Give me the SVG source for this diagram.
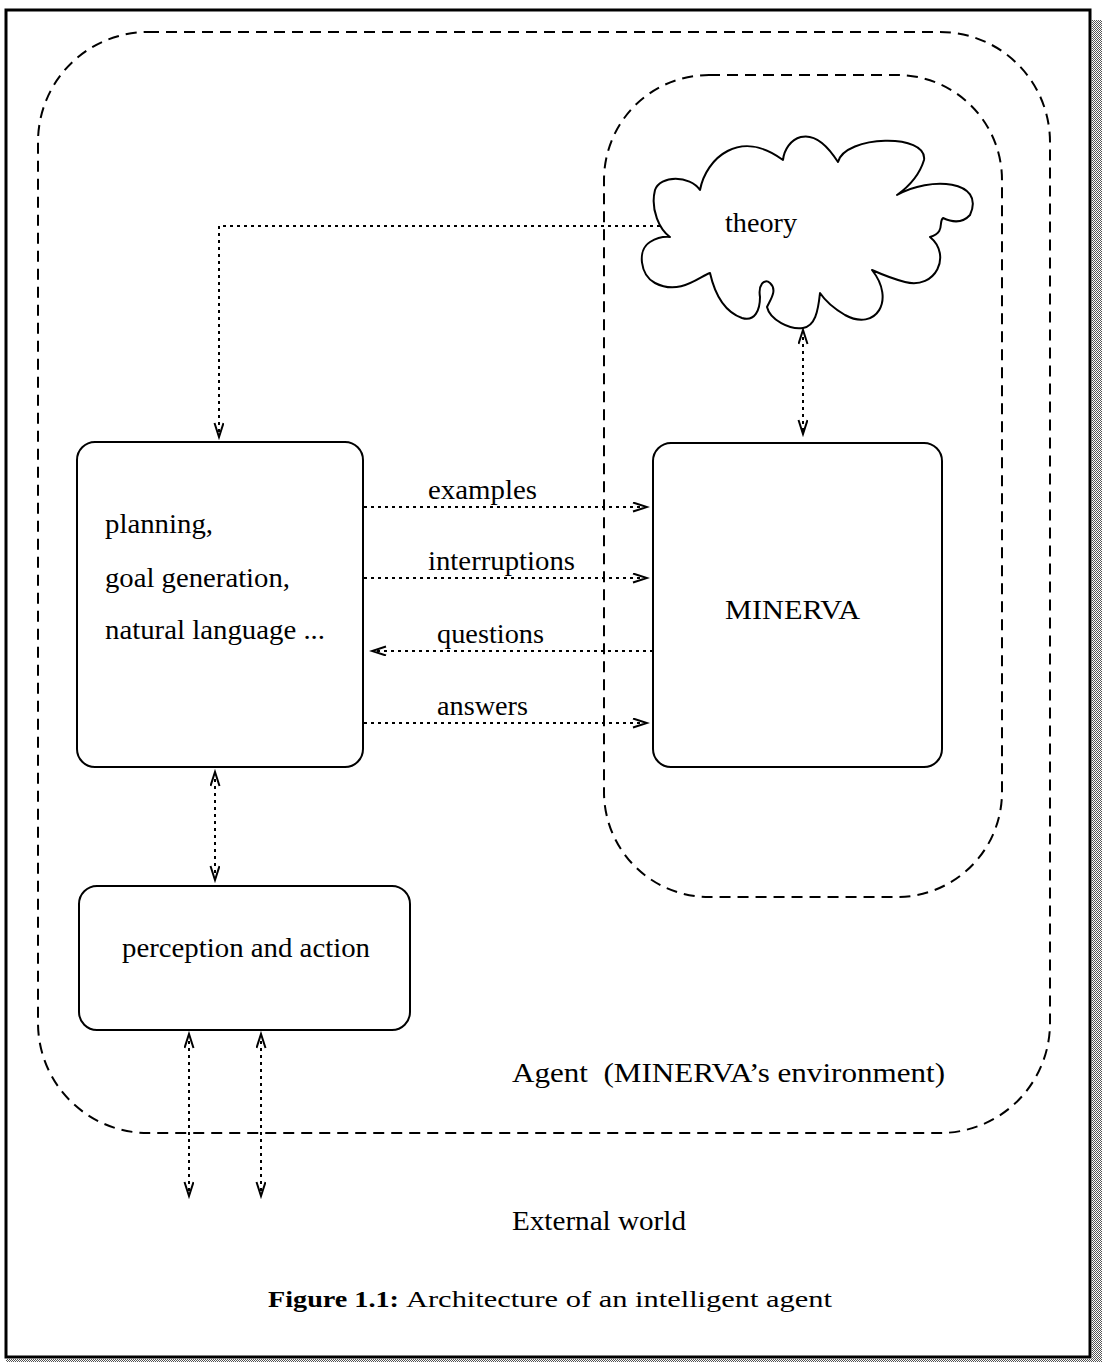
<svg xmlns="http://www.w3.org/2000/svg" width="1112" height="1362" viewBox="0 0 1112 1362">
  <defs>
    <style>
      .frame { fill: none; stroke: #000; stroke-width: 3; }
      .region { fill: none; stroke: #000; stroke-width: 2; stroke-dasharray: 11 7; }
      .box { fill: none; stroke: #000; stroke-width: 2; }
      .cloud { fill: none; stroke: #000; stroke-width: 2; stroke-linejoin: round; }
      .link { fill: none; stroke: #000; stroke-width: 2; stroke-dasharray: 3 4; }
      .lbl { font-family: "Liberation Serif", "Times New Roman", serif; font-size: 28px; fill: #000; }
      .cap { font-family: "Liberation Serif", "Times New Roman", serif; font-size: 24px; fill: #000; }
      .capb { font-family: "Liberation Serif", "Times New Roman", serif; font-size: 24px; font-weight: bold; fill: #000; }
    </style>
    <pattern id="dither" width="2" height="2" patternUnits="userSpaceOnUse">
      <rect width="2" height="2" fill="#ffffff"/>
      <rect width="1" height="1" fill="#555"/>
      <rect x="1" y="1" width="1" height="1" fill="#555"/>
    </pattern>
    <marker id="vhead" markerUnits="userSpaceOnUse" markerWidth="18" markerHeight="12" refX="15" refY="5" orient="auto-start-reverse">
      <path d="M1,0.5 L15,5 L1,9.5" fill="none" stroke="#000" stroke-width="2"/>
    </marker>
  </defs>

  <rect width="1112" height="1362" fill="#fff"/>

  <!-- page frame with shaded edge -->
  <g id="frame">
    <rect x="1092" y="20" width="10" height="1342" fill="url(#dither)"/>
    <rect x="6" y="1359" width="1096" height="3" fill="url(#dither)"/>
    <rect x="6" y="10" width="1084" height="1347" class="frame"/>
  </g>

  <!-- agent boundary -->
  <g id="agent">
    <rect x="38" y="32" width="1012" height="1101" rx="110" ry="110" class="region"/>
    <text class="lbl" x="512" y="1082" textLength="433" lengthAdjust="spacingAndGlyphs">Agent&#160; (MINERVA’s environment)</text>
  </g>

  <!-- MINERVA boundary -->
  <g id="minerva-region">
    <rect x="604" y="75" width="398" height="822" rx="105" ry="105" class="region"/>
  </g>

  <!-- theory cloud -->
  <g id="theory">
    <path class="cloud" d="M700,190
      C706,158 740,128 783,160
      C785,140 810,118 838,162
      C845,135 928,133 924,160
      Q918,180 897,195
      C930,176 986,180 970,215
      Q960,226 943,218
      C938,222 946,232 930,237
      C952,255 936,290 905,282
      Q890,278 872,270
      C896,300 876,332 845,315
      Q828,305 820,293
      C818,312 815,326 803,328
      C790,330 770,320 767,307
      C770,300 778,290 770,283
      C764,278 758,285 760,297
      C760,310 755,322 742,318
      C725,312 715,295 710,273
      C700,276 680,296 655,283
      C640,275 637,250 650,242
      Q660,236 670,237
      C660,230 650,210 655,190
      C660,175 690,175 700,190 Z"/>
    <text class="lbl" x="725" y="232" textLength="72" lengthAdjust="spacingAndGlyphs">theory</text>
  </g>

  <!-- planning module -->
  <g id="planning">
    <rect x="77" y="442" width="286" height="325" rx="18" ry="18" class="box"/>
    <text class="lbl" x="105" y="533" textLength="108" lengthAdjust="spacingAndGlyphs">planning,</text>
    <text class="lbl" x="105" y="587" textLength="185" lengthAdjust="spacingAndGlyphs">goal generation,</text>
    <text class="lbl" x="105" y="639" textLength="220" lengthAdjust="spacingAndGlyphs">natural language ...</text>
  </g>

  <!-- MINERVA module -->
  <g id="minerva">
    <rect x="653" y="443" width="289" height="324" rx="18" ry="18" class="box"/>
    <text class="lbl" x="725" y="619" textLength="135" lengthAdjust="spacingAndGlyphs">MINERVA</text>
  </g>

  <!-- perception and action module -->
  <g id="perception">
    <rect x="79" y="886" width="331" height="144" rx="18" ry="18" class="box"/>
    <text class="lbl" x="122" y="957" textLength="248" lengthAdjust="spacingAndGlyphs">perception and action</text>
  </g>

  <!-- connectors -->
  <g id="connectors">
    <path class="link" d="M660,226 H219 V437" marker-end="url(#vhead)"/>
    <path class="link" d="M803,330 V434" marker-start="url(#vhead)" marker-end="url(#vhead)"/>
    <path class="link" d="M364,507 H647" marker-end="url(#vhead)"/>
    <path class="link" d="M364,578 H647" marker-end="url(#vhead)"/>
    <path class="link" d="M653,651 H372" marker-end="url(#vhead)"/>
    <path class="link" d="M364,723 H647" marker-end="url(#vhead)"/>
    <path class="link" d="M215,772 V880" marker-start="url(#vhead)" marker-end="url(#vhead)"/>
    <path class="link" d="M189,1034 V1196" marker-start="url(#vhead)" marker-end="url(#vhead)"/>
    <path class="link" d="M261,1034 V1196" marker-start="url(#vhead)" marker-end="url(#vhead)"/>
    <text class="lbl" x="428" y="499" textLength="109" lengthAdjust="spacingAndGlyphs">examples</text>
    <text class="lbl" x="428" y="570" textLength="147" lengthAdjust="spacingAndGlyphs">interruptions</text>
    <text class="lbl" x="437" y="643" textLength="107" lengthAdjust="spacingAndGlyphs">questions</text>
    <text class="lbl" x="437" y="715" textLength="91" lengthAdjust="spacingAndGlyphs">answers</text>
  </g>

  <!-- outside world -->
  <g id="external">
    <text class="lbl" x="512" y="1230" textLength="174" lengthAdjust="spacingAndGlyphs">External world</text>
  </g>

  <!-- caption -->
  <g id="caption">
    <text class="capb" x="268" y="1307" textLength="131" lengthAdjust="spacingAndGlyphs">Figure 1.1:</text>
    <text class="cap" x="406" y="1307" textLength="426" lengthAdjust="spacingAndGlyphs">Architecture of an intelligent agent</text>
  </g>
</svg>
